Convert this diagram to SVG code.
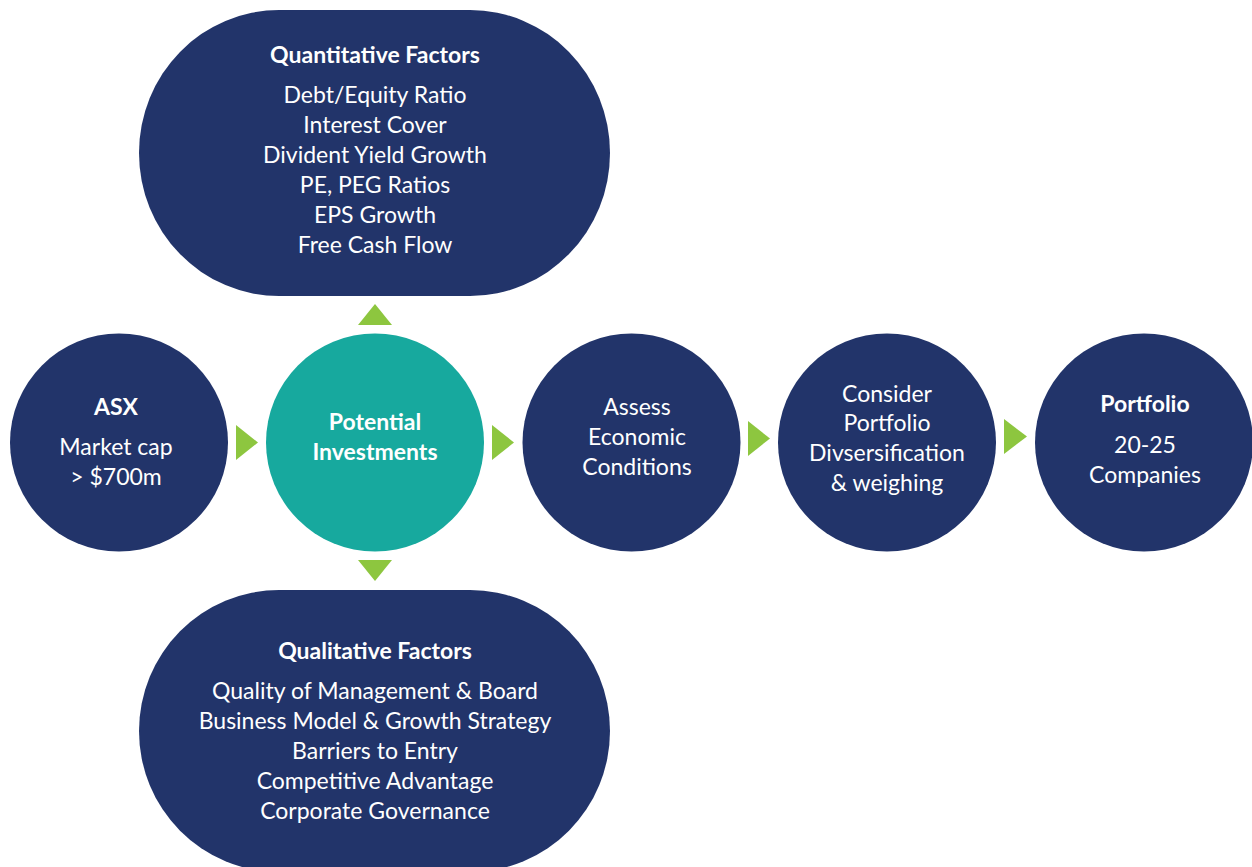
<svg xmlns="http://www.w3.org/2000/svg" width="1252" height="867" viewBox="0 0 1252 867">
  <style>
    .navy { fill: #22346A; }
    .teal { fill: #17A99E; }
    .arrow { fill: #8DC63F; }
    text { font-family: Lato, "Open Sans", "Liberation Sans", sans-serif; fill: #FFFFFF; text-anchor: middle; font-size: 23px; }
    .bold { font-weight: bold; }
  </style>
  <rect width="1252" height="867" fill="#FFFFFF"/>

  <!-- Quantitative factors -->
  <g id="quantitative">
    <rect class="navy" x="139" y="10" width="471" height="286" rx="140" ry="143"/>
    <text class="bold" x="375" y="63">Quantitative Factors</text>
    <text x="375" y="103">Debt/Equity Ratio</text>
    <text x="375" y="133">Interest Cover</text>
    <text x="375" y="163">Divident Yield Growth</text>
    <text x="375" y="193">PE, PEG Ratios</text>
    <text x="375" y="223">EPS Growth</text>
    <text x="375" y="253">Free Cash Flow</text>
  </g>

  <!-- Qualitative factors -->
  <g id="qualitative">
    <rect class="navy" x="139" y="590" width="471" height="282" rx="140" ry="141"/>
    <text class="bold" x="375" y="659">Qualitative Factors</text>
    <text x="375" y="699">Quality of Management &amp; Board</text>
    <text x="375" y="729">Business Model &amp; Growth Strategy</text>
    <text x="375" y="759">Barriers to Entry</text>
    <text x="375" y="789">Competitive Advantage</text>
    <text x="375" y="819">Corporate Governance</text>
  </g>

  <g id="asx">
    <circle class="navy" cx="119" cy="442.5" r="109"/>
    <text class="bold" x="116" y="415">ASX</text>
    <text x="116" y="455">Market cap</text>
    <text x="116" y="485">&gt; $700m</text>
  </g>

  <g id="potential">
    <circle class="teal" cx="375" cy="442.5" r="109"/>
    <text class="bold" x="375" y="430">Potential</text>
    <text class="bold" x="375" y="460">Investments</text>
  </g>

  <g id="assess">
    <circle class="navy" cx="631.5" cy="442.5" r="109"/>
    <text x="637" y="415">Assess</text>
    <text x="637" y="445">Economic</text>
    <text x="637" y="475">Conditions</text>
  </g>

  <g id="consider">
    <circle class="navy" cx="887" cy="442.5" r="109"/>
    <text x="887" y="402">Consider</text>
    <text x="887" y="431">Portfolio</text>
    <text x="887" y="461">Divsersification</text>
    <text x="887" y="491">&amp; weighing</text>
  </g>

  <g id="portfolio">
    <circle class="navy" cx="1144" cy="442.5" r="109"/>
    <text class="bold" x="1145" y="412">Portfolio</text>
    <text x="1145" y="453">20-25</text>
    <text x="1145" y="483">Companies</text>
  </g>

  <!-- Flow arrows -->
  <g id="connectors">
    <polygon class="arrow" points="358,325 392,325 375,304"/>
    <polygon class="arrow" points="358,560 392,560 375,581"/>
    <polygon class="arrow" points="236,425 236,460 258,442.5"/>
    <polygon class="arrow" points="492,425 492,460 514,442.5"/>
    <polygon class="arrow" points="748,421 748,456 770,438.5"/>
    <polygon class="arrow" points="1004,419 1004,454 1027,436.5"/>
  </g>
</svg>
